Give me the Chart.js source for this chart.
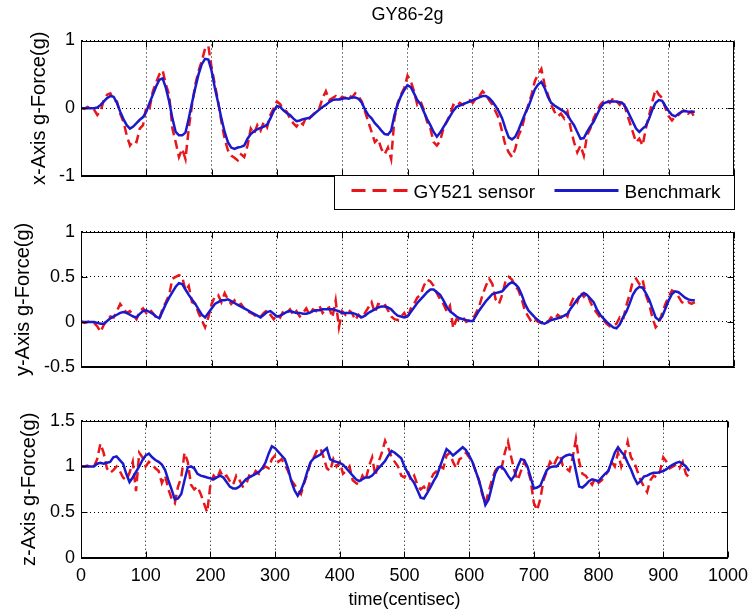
<!DOCTYPE html>
<html>
<head>
<meta charset="utf-8">
<script src="https://cdn.jsdelivr.net/npm/chart.js@4/dist/chart.umd.min.js"></script>
<style>
  html, body { margin: 0; padding: 0; background: #fff; }
  #figure { position: relative; width: 755px; height: 614px; overflow: hidden; background: #fff; }
  #figure canvas { position: absolute; left: 0; }
</style>
</head>
<body>
<div id="figure">
  <canvas id="axX" width="755" height="215" style="top:0px"></canvas>
  <canvas id="axY" width="755" height="185" style="top:215px"></canvas>
  <canvas id="axZ" width="755" height="214" style="top:400px"></canvas>
</div>
<script>
// ---- recorded samples (time in centiseconds) ----
const timeCs = [
  0, 5, 10, 15, 20, 25, 30, 35, 40, 45, 50, 55, 60, 65, 70, 75, 80, 85, 90, 95,
  100, 105, 110, 115, 120, 125, 130, 135, 140, 145, 150, 155, 160, 165, 170, 175, 180, 185, 190, 195,
  200, 205, 210, 215, 220, 225, 230, 235, 240, 245, 250, 255, 260, 265, 270, 275, 280, 285, 290, 295,
  300, 305, 310, 315, 320, 325, 330, 335, 340, 345, 350, 355, 360, 365, 370, 375, 380, 385, 390, 395,
  400, 405, 410, 415, 420, 425, 430, 435, 440, 445, 450, 455, 460, 465, 470, 475, 480, 485, 490, 495,
  500, 505, 510, 515, 520, 525, 530, 535, 540, 545, 550, 555, 560, 565, 570, 575, 580, 585, 590, 595,
  600, 605, 610, 615, 620, 625, 630, 635, 640, 645, 650, 655, 660, 665, 670, 675, 680, 685, 690, 695,
  700, 705, 710, 715, 720, 725, 730, 735, 740, 745, 750, 755, 760, 765, 770, 775, 780, 785, 790, 795,
  800, 805, 810, 815, 820, 825, 830, 835, 840, 845, 850, 855, 860, 865, 870, 875, 880, 885, 890, 895,
  900, 905, 910, 915, 920, 925, 930, 935, 940
];

// x axis, GY521 sensor
const sensorX = [
  0.01, -0.01, 0.02, 0, -0.02, -0.1, -0.04, 0.12, 0.2, 0.22, 0.12, 0.1, -0.08, -0.2, -0.4, -0.55, -0.48, -0.5, -0.3, -0.25,
  0.02, 0, 0.25, 0.38, 0.5, 0.56, 0.35, 0.2, -0.3, -0.5, -0.72, -0.6, -0.75, -0.3, 0.05, 0.35, 0.55, 0.7, 0.88, 0.92,
  0.6, 0.35, 0.1, -0.2, -0.45, -0.62, -0.7, -0.73, -0.77, -0.68, -0.72, -0.55, -0.3, -0.38, -0.25, -0.33, -0.2, -0.28, -0.1, 0,
  0.1, 0.06, -0.02, -0.05, -0.15, -0.22, -0.27, -0.2, -0.24, -0.12, -0.15, -0.1, -0.05, 0, 0.15, 0.25, 0.12, 0.15, 0.18, 0.12,
  0.17, 0.15, 0.2, 0.16, 0.22, 0.18, 0.1, -0.05, -0.2, -0.35, -0.5, -0.45, -0.6, -0.68, -0.58, -0.75, -0.15, 0.08, 0.2, 0.3,
  0.48, 0.4, 0.25, 0.05, 0.1, -0.02, -0.2, -0.3, -0.5, -0.55, -0.48, -0.3, -0.2, -0.1, 0.05, 0.02, 0.08, 0.05, 0.1, 0.12,
  0.08, 0.15, 0.18, 0.25, 0.2, 0.12, 0.05, -0.05, -0.15, -0.35, -0.55, -0.65, -0.72, -0.6, -0.4, -0.3, -0.1, 0.05, 0.2, 0.4,
  0.5, 0.58, 0.35, 0.2, 0.05, -0.05, -0.12, -0.08, -0.15, -0.05, -0.3, -0.5, -0.65, -0.55, -0.7, -0.4, -0.3, -0.15, -0.05, 0.05,
  0.1, 0.13, 0.08, 0.15, 0.1, 0.05, 0.12, -0.05, -0.2, -0.35, -0.5, -0.45, -0.55, -0.3, -0.1, 0.1, 0.28, 0.2, 0.15, 0,
  -0.12, -0.18, -0.12, -0.1, -0.05, -0.02, -0.08, -0.05, -0.15
];
// x axis, benchmark
const benchX = [
  0, 0, 0, 0, 0, 0.01, 0.05, 0.1, 0.15, 0.18, 0.17, 0.08, -0.05, -0.16, -0.25, -0.3, -0.27, -0.22, -0.17, -0.13,
  -0.05, 0.08, 0.2, 0.32, 0.42, 0.44, 0.3, 0.1, -0.15, -0.35, -0.4, -0.4, -0.36, -0.15, 0.08, 0.3, 0.5, 0.65, 0.73, 0.72,
  0.55, 0.3, 0.08, -0.15, -0.35, -0.5, -0.58, -0.6, -0.58, -0.57, -0.55, -0.45, -0.38, -0.34, -0.31, -0.29, -0.27, -0.24, -0.15, -0.04,
  0.03, 0.02, -0.03, -0.07, -0.1, -0.15, -0.19, -0.18, -0.16, -0.15, -0.14, -0.1, -0.06, -0.02, 0.02, 0.05, 0.09, 0.12, 0.13, 0.13,
  0.14, 0.15, 0.14, 0.16, 0.16, 0.14, 0.08, -0.02, -0.1, -0.15, -0.22, -0.27, -0.33, -0.38, -0.39, -0.33, -0.1, 0.06, 0.18, 0.27,
  0.34, 0.31, 0.22, 0.12, 0.06, -0.05, -0.16, -0.25, -0.35, -0.42, -0.36, -0.28, -0.2, -0.12, -0.04, 0.02, 0.04, 0.06, 0.08, 0.1,
  0.12, 0.14, 0.16, 0.18, 0.18, 0.15, 0.1, 0.03, -0.05, -0.15, -0.3, -0.43, -0.46, -0.42, -0.32, -0.2, -0.08, 0.02, 0.15, 0.28,
  0.35, 0.39, 0.3, 0.17, 0.08, 0.04, 0.01, -0.02, -0.05, -0.1, -0.18, -0.25, -0.35, -0.45, -0.44, -0.35, -0.27, -0.2, -0.1, 0,
  0.07, 0.09, 0.1, 0.1, 0.1, 0.09, 0.07, 0, -0.1, -0.2, -0.3, -0.35, -0.3, -0.26, -0.15, -0.02, 0.08, 0.12, 0.11, 0.03,
  -0.04, -0.1, -0.12, -0.08, -0.05, -0.04, -0.05, -0.05, -0.05
];

// y axis, GY521 sensor
const sensorY = [
  0.01, -0.01, 0, 0.01, -0.01, -0.05, -0.11, -0.03, 0.02, 0.06, 0.05, 0.12, 0.2, 0.15, 0.1, 0.12, 0.08, 0.03, 0.12, 0.15,
  0.1, 0.14, 0.1, 0.05, 0.03, 0.15, 0.22, 0.3, 0.48, 0.5, 0.52, 0.5, 0.35, 0.4, 0.22, 0.2, 0.1, 0.02, -0.06, 0.05,
  0.2, 0.28, 0.3, 0.22, 0.32, 0.25, 0.2, 0.24, 0.18, 0.2, 0.15, 0.12, 0.1, 0.08, 0.05, 0.06, 0.1, 0.13, 0.08, 0.03,
  0.08, 0.05, 0.12, 0.1, 0.14, 0.08, 0.12, 0.06, 0.1, 0.15, 0.08, 0.14, 0.12, 0.18, 0.1, 0.14, 0.16, 0.05, 0.24, -0.06,
  0.12, 0.08, 0.13, 0.1, 0.02, 0.08, 0.04, 0.1, 0.16, 0.22, 0.1, 0.2, 0.19, 0.2, 0.13, 0.06, 0.03, 0.02, 0.06, 0.1,
  0.03, 0.15, 0.2, 0.27, 0.3, 0.4, 0.47, 0.45, 0.4, 0.32, 0.25, 0.2, 0.12, 0.18, -0.07, 0.03, 0.02, 0.05, 0, 0.02,
  0.03, 0.1, 0.18, 0.3, 0.4, 0.48, 0.42, 0.25, 0.2, 0.3, 0.45, 0.5, 0.47, 0.4, 0.35, 0.25, 0.12, 0.06, 0, 0.03,
  0, -0.01, 0.02, 0, 0.05, 0.03, 0.08, 0.05, 0.1, 0.06, 0.2, 0.28, 0.22, 0.33, 0.28, 0.32, 0.22, 0.15, 0.1, 0.05,
  0.02, -0.02, -0.05, -0.04, -0.02, 0.05, 0.02, 0.18, 0.3, 0.45, 0.48, 0.42, 0.47, 0.3, 0.2, 0.05, -0.06, -0.02, 0.1, 0.2,
  0.28, 0.35, 0.33, 0.28, 0.22, 0.2, 0.22, 0.2, 0.22
];
// y axis, benchmark
const benchY = [
  0, 0, 0, 0, 0, -0.01, -0.02, -0.02, 0.01, 0.04, 0.06, 0.08, 0.1, 0.11, 0.1, 0.08, 0.06, 0.05, 0.09, 0.12,
  0.13, 0.11, 0.09, 0.06, 0.04, 0.12, 0.2, 0.27, 0.33, 0.39, 0.43, 0.42, 0.36, 0.3, 0.25, 0.2, 0.14, 0.08, 0.05, 0.1,
  0.15, 0.2, 0.22, 0.24, 0.24, 0.25, 0.23, 0.21, 0.19, 0.17, 0.15, 0.13, 0.11, 0.09, 0.07, 0.05, 0.08, 0.11, 0.12, 0.09,
  0.06, 0.07, 0.09, 0.11, 0.12, 0.11, 0.1, 0.1, 0.09, 0.09, 0.1, 0.12, 0.13, 0.13, 0.14, 0.14, 0.14, 0.14, 0.13, 0.12,
  0.1, 0.1, 0.1, 0.1, 0.09, 0.07, 0.05, 0.07, 0.1, 0.12, 0.14, 0.16, 0.17, 0.17, 0.16, 0.14, 0.1, 0.07, 0.06, 0.05,
  0.06, 0.11, 0.16, 0.21, 0.25, 0.29, 0.33, 0.36, 0.36, 0.33, 0.3, 0.24, 0.17, 0.12, 0.09, 0.06, 0.04, 0.03, 0.02, 0.01,
  0.01, 0.07, 0.13, 0.18, 0.23, 0.27, 0.31, 0.32, 0.33, 0.34, 0.38, 0.42, 0.44, 0.42, 0.38, 0.3, 0.2, 0.13, 0.09, 0.05,
  0.02, -0.01, -0.02, 0, 0.02, 0.03, 0.04, 0.05, 0.07, 0.09, 0.15, 0.2, 0.25, 0.29, 0.32, 0.3, 0.26, 0.22, 0.14, 0.08,
  0.04, 0, -0.03, -0.06, -0.07, -0.03, 0.05, 0.11, 0.2, 0.3, 0.36, 0.39, 0.38, 0.32, 0.25, 0.15, 0.05, 0.02, 0.06, 0.15,
  0.24, 0.31, 0.34, 0.33, 0.3, 0.27, 0.25, 0.24, 0.24
];

// z axis, GY521 sensor
const sensorZ = [
  1, 1, 1.01, 0.99, 1, 1.08, 1.25, 1.15, 0.98, 0.93, 0.96, 1, 0.95, 0.88, 0.85, 0.93, 1.05, 0.73, 1.15, 1.1,
  1, 1.05, 1.02, 0.98, 0.95, 0.82, 0.9, 0.75, 0.65, 0.6, 0.78, 0.88, 1.15, 1.05, 0.8, 0.75, 0.78, 0.7, 0.6, 0.5,
  0.8, 0.9, 0.86, 0.95, 0.88, 0.9, 0.84, 0.8, 0.9, 0.85, 0.78, 0.8, 0.9, 0.88, 0.95, 0.92, 0.97, 1, 0.98, 1.08,
  1.12, 1.05, 1.08, 1.02, 0.95, 0.85, 0.8, 0.75, 0.7, 0.82, 0.92, 1.05, 1.1, 1.18, 1.2, 1.1, 0.98, 0.95, 1.08, 1,
  1.05, 0.92, 0.95, 1, 0.85, 0.82, 0.8, 0.9, 0.85, 1, 1.1, 0.9, 1.05, 1.15, 1.28, 1.2, 1.1, 1.05, 1, 0.9,
  0.88, 0.95, 0.85, 0.9, 0.8, 0.75, 0.78, 0.72, 0.85, 0.92, 0.95, 1, 0.98, 1.12, 1.15, 1.05, 0.98, 1.08, 1.1, 1.15,
  1.1, 1.05, 0.95, 0.85, 0.7, 0.6, 0.72, 0.85, 0.95, 1, 0.98, 1.15, 1.27, 1.1, 0.95, 0.85, 0.95, 1.05, 0.98, 0.85,
  0.6, 0.52, 0.65, 0.85, 0.95, 1.05, 1, 1.08, 1.13, 1, 0.98, 0.95, 1.1, 1.3, 1.05, 0.92, 0.9, 0.85, 0.8, 0.88,
  0.82, 0.85, 0.9, 0.95, 1.05, 1, 1.15, 1, 1.12, 1.27, 1.1, 1.05, 0.95, 0.85, 0.78, 0.72, 0.85, 0.9, 0.88, 0.95,
  1.1, 1.05, 0.98, 1, 1.02, 0.98, 1.05, 0.92, 0.88
];
// z axis, benchmark
const benchZ = [
  1, 1, 1, 1, 1, 1.03, 1.04, 1.03, 1.04, 1.05, 1.1, 1.11, 1.07, 1.03, 0.92, 0.83, 0.88, 0.94, 1, 1.07,
  1.12, 1.14, 1.1, 1.07, 1.05, 1.02, 0.96, 0.85, 0.75, 0.64, 0.65, 0.7, 0.85, 0.99, 1, 0.98, 0.92, 0.9, 0.89, 0.88,
  0.87, 0.86, 0.88, 0.9, 0.88, 0.83, 0.78, 0.76, 0.76, 0.78, 0.82, 0.86, 0.88, 0.9, 0.92, 0.94, 0.98, 1.04, 1.14, 1.22,
  1.2, 1.16, 1.12, 1.08, 0.98, 0.84, 0.74, 0.68, 0.74, 0.83, 0.95, 1.05, 1.09, 1.11, 1.13, 1.17, 1.2, 1.08, 1.06, 1.05,
  1.04, 1.02, 0.98, 0.94, 0.9, 0.86, 0.84, 0.86, 0.88, 0.88, 0.9, 0.94, 0.98, 1.02, 1.06, 1.12, 1.17, 1.15, 1.12, 1.09,
  1, 0.93, 0.87, 0.82, 0.74, 0.66, 0.65, 0.71, 0.77, 0.84, 0.9, 1, 1.1, 1.19, 1.16, 1.12, 1.15, 1.18, 1.21, 1.18,
  1.12, 1.05, 0.95, 0.85, 0.72, 0.58, 0.64, 0.78, 0.92, 0.99, 1, 0.96, 0.9, 0.85, 0.9, 1, 1.08, 1.07, 1, 0.88,
  0.76, 0.77, 0.79, 0.88, 0.96, 0.99, 1, 1, 1.04, 1.1, 1.12, 1.13, 1.12, 0.95, 0.78, 0.77, 0.8, 0.84, 0.86, 0.85,
  0.84, 0.88, 0.92, 0.95, 1.05, 1.15, 1.21, 1.16, 1.12, 1.04, 0.97, 0.88, 0.81, 0.84, 0.89, 0.9, 0.92, 0.93, 0.93, 0.94,
  0.95, 0.97, 1, 1.02, 1.04, 1.05, 1.03, 1, 0.95
];

const seriesNames = ['GY521 sensor', 'Benchmark'];
const figureTitle = 'GY86-2g';
const timeTitle = 'time(centisec)';
const yTitles = ['x-Axis g-Force(g)', 'y-Axis g-Force(g)', 'z-Axis g-Force(g)'];

// ---- styling ----
const FONT = "'Liberation Sans', Arial, Helvetica, sans-serif";
const RED = '#e8161b';
const BLUE = '#1a1acc';
Chart.defaults.font.family = FONT;
Chart.defaults.color = '#000';

function toPoints(values) {
  return timeCs.map((t, i) => ({ x: t, y: values[i] }));
}

// plain numeric tick text: 1, 0.5, -0.5, 1000
const plainTick = v => String(Math.round(v * 100) / 100);

// box outline plus inward tick marks on all four sides
const boxedAxes = {
  id: 'boxedAxes',
  afterDatasetsDraw(chart) {
    const { ctx, chartArea: a, scales } = chart;
    const L = Math.round(a.left) + 0.5, R = Math.round(a.right) - 0.5;
    const T = Math.round(a.top) + 0.5, B = Math.round(a.bottom) - 0.5;
    const len = 6;
    ctx.save();
    ctx.setLineDash([]);
    ctx.strokeStyle = '#000';
    ctx.lineWidth = 1;
    ctx.beginPath();
    scales.x.ticks.forEach(t => {
      const p = Math.round(scales.x.getPixelForValue(t.value)) + 0.5;
      ctx.moveTo(p, B); ctx.lineTo(p, B - len);
      ctx.moveTo(p, T); ctx.lineTo(p, T + len);
    });
    scales.y.ticks.forEach(t => {
      const p = Math.round(scales.y.getPixelForValue(t.value)) + 0.5;
      ctx.moveTo(L, p); ctx.lineTo(L + len, p);
      ctx.moveTo(R, p); ctx.lineTo(R - len, p);
    });
    ctx.stroke();
    ctx.strokeRect(L, T, R - L, B - T);
    ctx.restore();
  }
};

// legend hanging below the first axes, right aligned
const legendBelow = {
  id: 'legendBelow',
  afterDraw(chart) {
    const { ctx, chartArea: a } = chart;
    const ds = chart.data.datasets;
    const w = 400, h = 34;
    const x0 = Math.round(a.right - w) + 0.5, y0 = Math.round(a.bottom) - 0.5;
    ctx.save();
    ctx.fillStyle = '#fff';
    ctx.fillRect(x0, y0, w, h);
    ctx.strokeStyle = '#000';
    ctx.lineWidth = 1;
    ctx.setLineDash([]);
    ctx.strokeRect(x0, y0, w, h);
    const lineY = y0 + 15;
    const entries = [
      { ds: ds[0], s0: 17, s1: 74, tx: 79, dash: [14, 7] },
      { ds: ds[1], s0: 220, s1: 284, tx: 290, dash: [] }
    ];
    entries.forEach(e => {
      ctx.beginPath();
      ctx.strokeStyle = e.ds.borderColor;
      ctx.lineWidth = 3;
      ctx.setLineDash(e.dash);
      ctx.moveTo(x0 + e.s0, lineY);
      ctx.lineTo(x0 + e.s1, lineY);
      ctx.stroke();
      ctx.setLineDash([]);
      ctx.fillStyle = '#000';
      ctx.font = '19px ' + FONT;
      ctx.textBaseline = 'middle';
      ctx.textAlign = 'left';
      ctx.fillText(e.ds.label, x0 + e.tx, y0 + 17);
    });
    ctx.restore();
  }
};

function makeAxes(id, cfg) {
  const extra = [boxedAxes];
  if (cfg.legend) extra.push(legendBelow);
  return new Chart(document.getElementById(id), {
    type: 'line',
    data: {
      datasets: [
        { label: seriesNames[0], data: toPoints(cfg.sensor), borderColor: RED, borderWidth: 2.5,
          borderDash: [9, 5], pointRadius: 0, fill: false, tension: 0, order: 1 },
        { label: seriesNames[1], data: toPoints(cfg.bench), borderColor: BLUE, borderWidth: 2.5,
          pointRadius: 0, fill: false, tension: 0, order: 0 }
      ]
    },
    options: {
      responsive: false,
      animation: false,
      devicePixelRatio: 1,
      layout: { padding: { left: 0, right: 21, top: cfg.padTop, bottom: 0 } },
      plugins: {
        legend: { display: false },
        tooltip: { enabled: false },
        title: cfg.title ? {
          display: true, text: cfg.title, color: '#000', fullSize: false,
          font: { family: FONT, size: 18, weight: 'normal' },
          padding: { top: 4, bottom: 14.9 }
        } : { display: false }
      },
      scales: {
        x: {
          type: 'linear', min: 0, max: 1000,
          ticks: { stepSize: 100, display: cfg.showTime, color: '#000', font: { size: 18 },
                   padding: 7, maxRotation: 0, autoSkip: false, callback: plainTick },
          grid: { color: '#000', lineWidth: 1, drawTicks: false },
          border: { display: true, color: '#000', width: 1, dash: [1, 3] },
          title: { display: cfg.showTime, text: timeTitle, color: '#000',
                   font: { size: 18 }, padding: { top: 0, bottom: 3 } },
          afterFit: s => { s.height = cfg.xHeight; }
        },
        y: {
          type: 'linear', min: cfg.yMin, max: cfg.yMax,
          ticks: { stepSize: cfg.yStep, color: '#000', font: { size: 18 }, padding: 6,
                   callback: plainTick },
          grid: { color: '#000', lineWidth: 1, drawTicks: false },
          border: { display: true, color: '#000', width: 1, dash: [1, 3] },
          title: { display: true, text: cfg.yTitle, color: '#000',
                   font: { size: 20 }, padding: { top: cfg.yTitlePad, bottom: 0 } },
          afterFit: s => { s.width = 81; }
        }
      }
    },
    plugins: extra
  });
}

makeAxes('axX', {
  sensor: sensorX, bench: benchX, yMin: -1, yMax: 1, yStep: 1, yTitle: yTitles[0], yTitlePad: 27,
  title: figureTitle, padTop: 0, xHeight: 39, showTime: false, legend: true
});
makeAxes('axY', {
  sensor: sensorY, bench: benchY, yMin: -0.5, yMax: 1, yStep: 0.5, yTitle: yTitles[1], yTitlePad: 11,
  padTop: 14.5, xHeight: 33, showTime: false, legend: false
});
makeAxes('axZ', {
  sensor: sensorZ, bench: benchZ, yMin: 0, yMax: 1.5, yStep: 0.5, yTitle: yTitles[2], yTitlePad: 17,
  padTop: 20.7, xHeight: 56, showTime: true, legend: false
});
</script>
</body>
</html>
